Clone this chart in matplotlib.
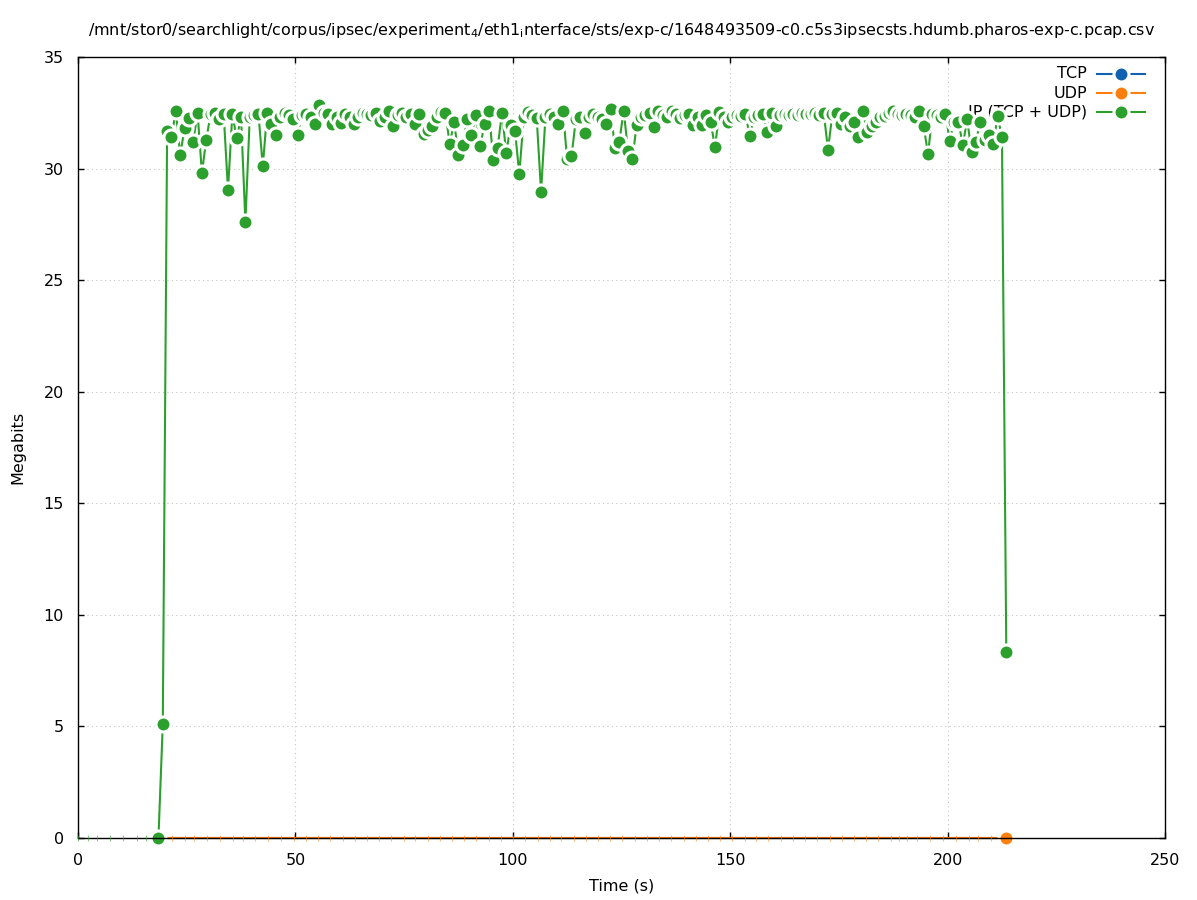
import numpy as np
import matplotlib.pyplot as plt
from matplotlib.lines import Line2D

# throughput samples (seconds, megabits)
time_s = [18.5, 19.5, 20.5, 21.5, 22.5, 23.5, 24.5, 25.5, 26.5, 27.5,
          28.5, 29.5, 30.5, 31.5, 32.5, 33.5, 34.5, 35.5, 36.5, 37.5,
          38.5, 39.5, 40.5, 41.5, 42.5, 43.5, 44.5, 45.5, 46.5, 47.5,
          48.5, 49.5, 50.5, 51.5, 52.5, 53.5, 54.5, 55.5, 56.5, 57.5,
          58.5, 59.5, 60.5, 61.5, 62.5, 63.5, 64.5, 65.5, 66.5, 67.5,
          68.5, 69.5, 70.5, 71.5, 72.5, 73.5, 74.5, 75.5, 76.5, 77.5,
          78.5, 79.5, 80.5, 81.5, 82.5, 83.5, 84.5, 85.5, 86.5, 87.5,
          88.5, 89.5, 90.5, 91.5, 92.5, 93.5, 94.5, 95.5, 96.5, 97.5,
          98.5, 99.5, 100.5, 101.5, 102.5, 103.5, 104.5, 105.5, 106.5, 107.5,
          108.5, 109.5, 110.5, 111.5, 112.5, 113.5, 114.5, 115.5, 116.5, 117.5,
          118.5, 119.5, 120.5, 121.5, 122.5, 123.5, 124.5, 125.5, 126.5, 127.5,
          128.5, 129.5, 130.5, 131.5, 132.5, 133.5, 134.5, 135.5, 136.5, 137.5,
          138.5, 139.5, 140.5, 141.5, 142.5, 143.5, 144.5, 145.5, 146.5, 147.5,
          148.5, 149.5, 150.5, 151.5, 152.5, 153.5, 154.5, 155.5, 156.5, 157.5,
          158.5, 159.5, 160.5, 161.5, 162.5, 163.5, 164.5, 165.5, 166.5, 167.5,
          168.5, 169.5, 170.5, 171.5, 172.5, 173.5, 174.5, 175.5, 176.5, 177.5,
          178.5, 179.5, 180.5, 181.5, 182.5, 183.5, 184.5, 185.5, 186.5, 187.5,
          188.5, 189.5, 190.5, 191.5, 192.5, 193.5, 194.5, 195.5, 196.5, 197.5,
          198.5, 199.5, 200.5, 201.5, 202.5, 203.5, 204.5, 205.5, 206.5, 207.5,
          208.5, 209.5, 210.5, 211.5, 212.5, 213.5]

ip_mbit = [0.0, 5.1, 31.7, 31.4, 32.6, 30.6, 31.8, 32.25, 31.2, 32.5,
           29.8, 31.3, 32.45, 32.5, 32.2, 32.45, 29.05, 32.45, 31.35, 32.3,
           27.6, 32.3, 32.4, 32.45, 30.1, 32.5, 32.0, 31.5, 32.3, 32.5,
           32.4, 32.2, 31.5, 32.4, 32.45, 32.3, 32.0, 32.85, 32.5, 32.45,
           32.0, 32.3, 32.05, 32.45, 32.3, 32.0, 32.3, 32.5, 32.45, 32.4,
           32.5, 32.15, 32.3, 32.6, 31.9, 32.4, 32.5, 32.3, 32.45, 32.0,
           32.45, 31.55, 31.75, 31.9, 32.3, 32.55, 32.5, 31.1, 32.1, 30.6,
           31.05, 32.2, 31.5, 32.4, 31.0, 32.0, 32.6, 30.4, 30.9, 32.5,
           30.7, 31.95, 31.7, 29.75, 32.3, 32.55, 32.4, 32.25, 28.95, 32.3,
           32.45, 32.3, 32.0, 32.6, 30.45, 30.55, 32.2, 32.3, 31.6, 32.3,
           32.45, 32.3, 32.2, 32.0, 32.65, 30.9, 31.2, 32.6, 30.8, 30.45,
           31.95, 32.3, 32.4, 32.5, 31.85, 32.6, 32.4, 32.3, 32.6, 32.45,
           32.25, 32.4, 32.45, 31.95, 32.3, 31.95, 32.4, 32.1, 30.95, 32.55,
           32.3, 32.1, 32.3, 32.4, 32.35, 32.45, 31.45, 32.3, 32.4, 32.45,
           31.65, 32.5, 31.9, 32.4, 32.45, 32.4, 32.45, 32.4, 32.5, 32.45,
           32.45, 32.5, 32.4, 32.5, 30.85, 32.45, 32.5, 32.0, 32.3, 31.9,
           32.1, 31.4, 32.6, 31.65, 31.9, 32.1, 32.3, 32.35, 32.5, 32.6,
           32.45, 32.4, 32.45, 32.4, 32.3, 32.6, 31.9, 30.65, 32.45, 32.4,
           32.3, 32.45, 31.25, 32.1, 32.1, 31.05, 32.2, 30.75, 31.2, 32.1,
           31.3, 31.5, 31.1, 32.35, 31.4, 8.35]

tcp_mbit = np.zeros(len(time_s))
udp_mbit = np.zeros(len(time_s))

# zero-valued samples that only show as faint marks on the baseline
zero_marks_t = [0.0, 2.2, 4.3, 7.4, 10.4, 13.5, 15.6, 21.6, 24.6, 26.6,
                29.7, 32.7, 35.7, 37.9, 40.7, 43.8, 46.7, 49.6, 52.5, 55.2,
                58.0, 60.9, 63.7, 66.4, 69.2, 72.1, 74.9, 77.6, 80.4, 83.3,
                86.1, 88.8, 91.6, 94.5, 97.3, 100.0, 102.8, 105.7, 108.5, 111.2,
                114.0, 116.9, 119.7, 122.4, 125.2, 128.1, 130.9, 133.6, 136.4, 139.3,
                142.1, 144.8, 147.6, 150.5, 153.3, 156.0, 158.8, 161.7, 164.5, 167.2,
                170.0, 172.9, 175.7, 178.4, 181.2, 184.1, 187.0, 188.8, 190.7, 192.9,
                196.0, 198.9, 202.0, 205.0, 206.9, 209.9]

labels = ["TCP", "UDP", "IP (TCP + UDP)"]
colors = ["#1061b0", "#ff7f0e", "#2ca02c"]

title = (r"/mnt/stor0/searchlight/corpus/ipsec/experiment$_{\mathregular{4}}$"
         r"/eth1$_{\mathregular{i}}$nterface/sts/exp-c/1648493509-c0.c5s3ipsecsts"
         r".hdumb.pharos-exp-c.pcap.csv")

FS = 11.5
MS = 10.8
MEW = 2.2

fig = plt.figure(figsize=(11.97, 9), dpi=100)
ax = fig.add_axes([78 / 1197, 62 / 900, 1087 / 1197, 781 / 900])

series = [tcp_mbit, udp_mbit, ip_mbit]
for vals, col in zip(series[:2], colors[:2]):
    ax.plot(time_s, vals, color=col, lw=1.5, marker="o", ms=MS,
            mfc=col, mec="white", mew=MEW, markevery=[len(time_s) - 1],
            clip_on=False, zorder=3)

ax.plot(time_s, ip_mbit, color=colors[2], lw=1.5, marker="o", ms=MS,
        mfc=colors[2], mec="white", mew=MEW, clip_on=False, zorder=4)

mark_cols = [colors[2] if t < 18 else colors[1] for t in zero_marks_t]
ax.scatter(zero_marks_t, np.zeros(len(zero_marks_t)), marker="|", s=18,
           c=mark_cols, linewidths=0.8, alpha=0.55, clip_on=False, zorder=6)

ax.set_xlim(0, 250)
ax.set_ylim(0, 35)
ax.set_xticks([0, 50, 100, 150, 200, 250])
ax.set_yticks([0, 5, 10, 15, 20, 25, 30, 35])
ax.tick_params(direction="in", length=4.5, width=1.0, top=True, right=True,
               labelsize=FS, pad=10)
ax.tick_params(axis="x", pad=11)
ax.grid(True, color="#c4c4c4", lw=0.8, linestyle=(0, (1, 3)))
for sp in ax.spines.values():
    sp.set_linewidth(1.0)
    sp.set_zorder(5)

# gnuplot style key, drawn under the data
rows = [74, 93, 112]
for lab, col, ypx in zip(labels, colors, rows):
    yf = 1 - ypx / 900
    ax.text(1087 / 1197, yf, lab, transform=fig.transFigure, ha="right",
            va="center", fontsize=FS, zorder=1, clip_on=False)
    ax.add_line(Line2D([1097 / 1197, 1145 / 1197], [yf, yf],
                       transform=fig.transFigure, color=col, lw=1.5,
                       clip_on=False, zorder=1))
    ax.add_line(Line2D([1121 / 1197], [yf], transform=fig.transFigure,
                       marker="o", ms=MS, mfc=col, mec="white", mew=MEW,
                       clip_on=False, zorder=1))

fig.text(621.5 / 1197, 1 - 30 / 900, title, ha="center", va="center",
         fontsize=FS)
fig.text(621.5 / 1197, 1 - 886 / 900, "Time (s)", ha="center", va="center",
         fontsize=FS)
fig.text(18 / 1197, 1 - 447 / 900, "Megabits", ha="center", va="center",
         rotation=90, fontsize=FS)

fig.savefig("out.png", dpi=100)
